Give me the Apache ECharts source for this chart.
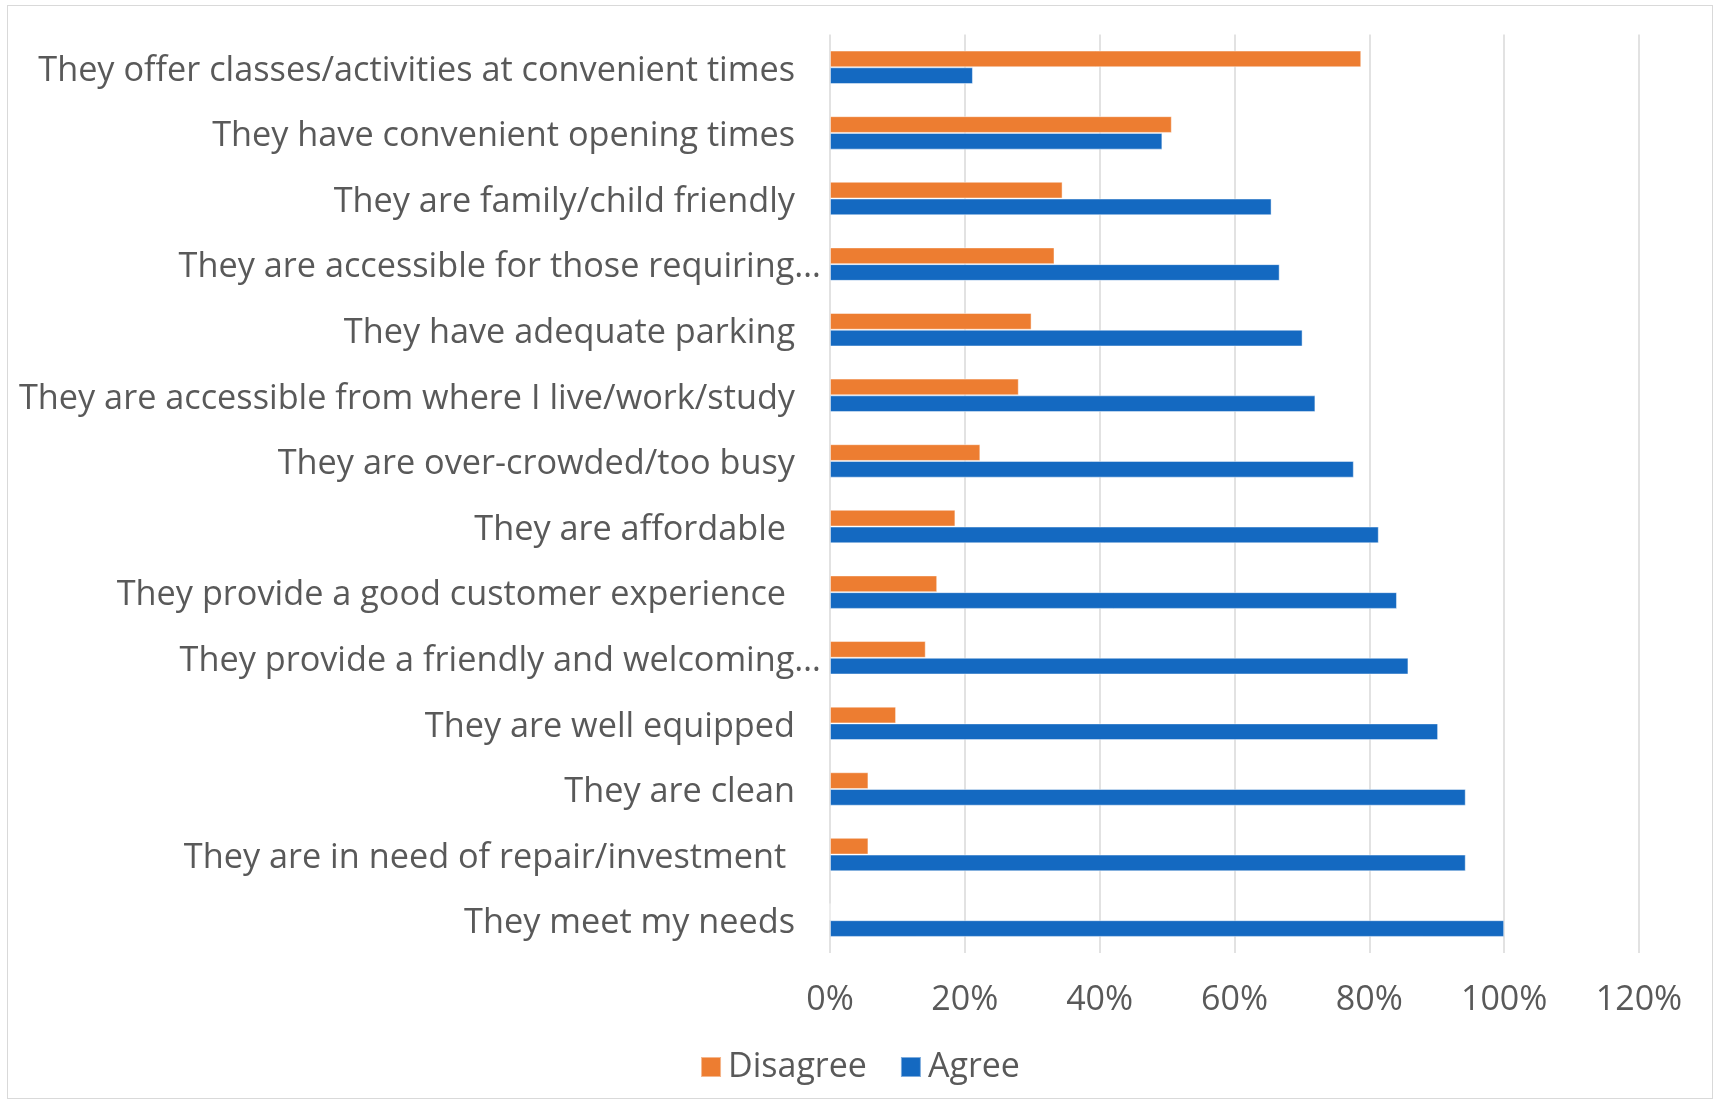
<!DOCTYPE html>
<html>
<head>
<meta charset="utf-8">
<title>Leisure facilities – agree / disagree</title>
<script src="https://cdn.jsdelivr.net/npm/echarts@6/dist/echarts.min.js"></script>
<style>
  html, body { margin: 0; padding: 0; background: #ffffff; }
  #chart { position: absolute; left: 0; top: 0; width: 1720px; height: 1104px; }
  #frame {
    position: absolute; left: 7px; top: 5px; width: 1706px; height: 1094px;
    border: 1.5px solid #d9d9d9; pointer-events: none; box-sizing: border-box;
  }
</style>
</head>
<body>
<div id="chart"></div>
<div id="frame"></div>
<script>
// Statements, listed top to bottom
const categories = [
  'They offer classes/activities at convenient times',
  'They have convenient opening times',
  'They are family/child friendly',
  'They are accessible for those requiring\u2026',
  'They have adequate parking',
  'They are accessible from where I live/work/study',
  'They are over-crowded/too busy',
  'They are affordable ',
  'They provide a good customer experience ',
  'They provide a friendly and welcoming\u2026',
  'They are well equipped',
  'They are clean',
  'They are in need of repair/investment ',
  'They meet my needs'
];

// Share of respondents (%)
const disagree = [78.8, 50.7, 34.5, 33.3, 29.9, 28.0, 22.3, 18.6, 15.9, 14.2, 9.8, 5.7, 5.7, 0];
const agree    = [21.2, 49.3, 65.5, 66.7, 70.1, 72.0, 77.7, 81.4, 84.1, 85.8, 90.2, 94.3, 94.3, 100];

// Percentage axis
const axisMax = 120;
const axisStep = 20;

const FONT = '"Open Sans", "Noto Sans", sans-serif';
const TEXT = '#595959';
const GRID = '#d9d9d9';
const LABEL_SIZE = 34.25;

const chart = echarts.init(document.getElementById('chart'), null, { renderer: 'canvas' });

chart.setOption({
  animation: false,
  backgroundColor: '#ffffff',
  textStyle: { fontFamily: FONT },
  grid: { left: 830, right: 81, top: 34.5, bottom: 151, containLabel: false },
  legend: {
    data: ['Disagree', 'Agree'],
    left: 'center',
    top: 1045,
    icon: 'rect',
    itemWidth: 20,
    itemHeight: 20,
    itemGap: 33,
    textStyle: { fontFamily: FONT, fontSize: 34, color: TEXT, padding: [0, 0, 0, 2] }
  },
  xAxis: {
    type: 'value',
    min: 0,
    max: axisMax,
    interval: axisStep,
    axisLine: { show: false },
    axisTick: { show: false },
    splitLine: { show: true, lineStyle: { color: GRID, width: 1.5 } },
    axisLabel: {
      formatter: '{value}%',
      fontFamily: FONT,
      fontSize: 34,
      color: TEXT,
      margin: 30
    }
  },
  yAxis: {
    type: 'category',
    data: categories,
    inverse: true,
    axisLine: { show: false },
    axisTick: { show: false },
    splitLine: { show: false },
    axisLabel: {
      margin: 9,
      interval: 0,
      formatter: function (v) {
        return (v.endsWith('\u2026') ? '{t|' : '{n|') + v + '}';
      },
      rich: {
        n: { fontFamily: FONT, fontSize: LABEL_SIZE, color: TEXT, padding: [7, 26, 0, 0] },
        t: { fontFamily: FONT, fontSize: LABEL_SIZE, color: TEXT, padding: [7, 0, 0, 0] }
      }
    }
  },
  series: [
    {
      name: 'Disagree',
      type: 'bar',
      data: disagree,
      barGap: '0%',
      barCategoryGap: '49%',
      itemStyle: { color: '#ed7d31', borderColor: 'rgba(255,255,255,0.45)', borderWidth: 1 }
    },
    {
      name: 'Agree',
      type: 'bar',
      data: agree,
      barGap: '0%',
      barCategoryGap: '49%',
      itemStyle: { color: '#1469c1', borderColor: 'rgba(255,255,255,0.45)', borderWidth: 1 }
    }
  ]
});
</script>
</body>
</html>
